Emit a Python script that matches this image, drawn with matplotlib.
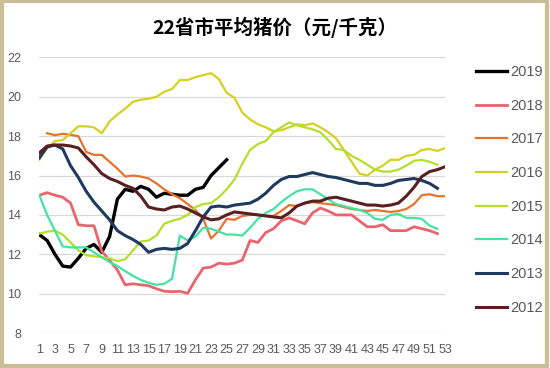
import numpy as np
import matplotlib.pyplot as plt
from matplotlib.patches import Rectangle

plt.rcParams['font.family'] = ['Liberation Sans', 'Noto Sans CJK SC', 'DejaVu Sans']

title = '22省市平均猪价（元/千克）'
weeks = list(range(1, 54))

p2019 = [13.0, 12.7, 12.0, 11.4, 11.35, 11.8, 12.3, 12.5, 12.1, 12.9,
         14.8, 15.3, 15.2, 15.45, 15.3, 14.9, 15.1, 15.05, 15.0, 15.0,
         15.3, 15.4, 16.0, 16.4, 16.8]

p2018 = [15.0, 15.13, 15.0, 14.9, 14.6, 13.5, 13.45, 13.45, 12.15, 11.7,
         11.2, 10.45, 10.5, 10.45, 10.4, 10.25, 10.12, 10.1, 10.12, 10.02,
         10.7, 11.3, 11.35, 11.55, 11.5, 11.55, 11.7, 12.7, 12.6, 13.1,
         13.3, 13.7, 13.85, 13.7, 13.55, 14.1, 14.35, 14.2, 14.0, 14.0,
         14.0, 13.7, 13.4, 13.4, 13.5, 13.2, 13.2, 13.2, 13.4, 13.3,
         13.2, 13.05]

p2017 = [np.nan, 18.15, 18.05, 18.12, 18.07, 18.0, 17.2, 17.05, 17.05, 16.7,
         16.35, 15.95, 16.0, 15.95, 15.85, 15.6, 15.3, 15.05, 14.85, 14.55,
         14.25, 13.8, 12.8, 13.2, 13.8, 13.75, 13.95, 14.0, 14.0, 13.95,
         13.95, 14.2, 14.5, 14.45, 14.6, 14.65, 14.6, 14.55, 14.5, 14.4,
         14.3, 14.25, 14.2, 14.25, 14.2, 14.15, 14.2, 14.3, 14.55, 15.0,
         15.05, 14.95, 14.95]

p2016 = [16.8, 17.4, 17.75, 17.8, 18.15, 18.5, 18.5, 18.45, 18.15, 18.75,
         19.1, 19.4, 19.75, 19.85, 19.9, 20.0, 20.25, 20.4, 20.85, 20.85,
         21.0, 21.1, 21.2, 20.9, 20.2, 19.95, 19.2, 18.85, 18.6, 18.45,
         18.25, 18.3, 18.45, 18.6, 18.55, 18.65, 18.45, 18.2, 17.9, 17.3,
         16.7, 16.1, 16.0, 16.3, 16.5, 16.8, 16.8, 17.0, 17.05, 17.3,
         17.35, 17.25, 17.4]

p2015 = [13.05, 13.15, 13.2, 13.0, 12.6, 12.2, 11.95, 11.9, 11.85, 11.8,
         11.65, 11.75, 12.2, 12.65, 12.7, 12.95, 13.55, 13.7, 13.8, 14.0,
         14.4, 14.55, 14.6, 14.9, 15.3, 15.8, 16.6, 17.3, 17.6, 17.75,
         18.2, 18.45, 18.7, 18.55, 18.45, 18.35, 18.2, 17.8, 17.35, 17.3,
         17.0, 16.8, 16.55, 16.3, 16.2, 16.2, 16.3, 16.5, 16.75, 16.8,
         16.7, 16.55]

p2014 = [15.0, 14.0, 13.2, 12.4, 12.35, 12.35, 12.35, 12.1, 11.85, 11.6,
         11.4, 11.15, 10.9, 10.7, 10.55, 10.45, 10.5, 10.75, 12.95, 12.7,
         12.9, 13.35, 13.3, 13.15, 13.0, 13.0, 12.95, 13.35, 13.8, 14.1,
         14.3, 14.65, 14.95, 15.2, 15.3, 15.3, 15.05, 14.8, 14.55, 14.45,
         14.35, 14.25, 14.1, 13.8, 13.75, 14.0, 14.05, 13.85, 13.85, 13.8,
         13.45, 13.3]

p2013 = [16.9, 17.45, 17.55, 17.35, 16.5, 15.9, 15.2, 14.65, 14.2, 13.75,
         13.2, 12.95, 12.75, 12.5, 12.1, 12.25, 12.3, 12.25, 12.3, 12.55,
         13.2, 13.9, 14.4, 14.45, 14.4, 14.5, 14.55, 14.6, 14.8, 15.1,
         15.5, 15.8, 15.95, 15.95, 16.05, 16.15, 16.05, 15.95, 15.9, 15.8,
         15.7, 15.6, 15.6, 15.5, 15.5, 15.6, 15.75, 15.8, 15.85, 15.75,
         15.6, 15.35]

p2012 = [17.15, 17.5, 17.55, 17.55, 17.5, 17.4, 16.95, 16.55, 16.1, 15.85,
         15.7, 15.5, 15.35, 14.95, 14.4, 14.3, 14.25, 14.4, 14.45, 14.3,
         14.1, 13.9, 13.75, 13.8, 14.0, 14.15, 14.1, 14.05, 14.0, 13.95,
         13.9, 13.85, 14.1, 14.45, 14.6, 14.7, 14.7, 14.85, 14.9, 14.8,
         14.7, 14.6, 14.5, 14.5, 14.45, 14.5, 14.6, 14.95, 15.4, 15.95,
         16.2, 16.3, 16.45]

series = [
    ('2019', p2019, '#000000', 2.4),
    ('2018', p2018, '#E9646C', 2.0),
    ('2017', p2017, '#E8722C', 1.6),
    ('2016', p2016, '#D6D022', 1.6),
    ('2015', p2015, '#B2E02A', 1.6),
    ('2014', p2014, '#45E3A2', 1.6),
    ('2013', p2013, '#1F3A5F', 2.2),
    ('2012', p2012, '#5A1F20', 2.2),
]

fig = plt.figure(figsize=(5.5, 3.68), dpi=100)
fig.patch.set_facecolor('white')
ax = fig.add_axes([0.0715, 0.095, 0.738, 0.749])

for name, vals, color, lw in series:
    ax.plot(weeks[:len(vals)], vals, color=color, lw=lw, label=name,
            solid_joinstyle='round')

ax.set_xlim(1, 53)
ax.set_ylim(8, 22)
ax.set_yticks(range(8, 23, 2))
ax.set_xticks(range(1, 54, 2))
ax.grid(axis='y', color='#D9D9D9', lw=0.9)
ax.set_axisbelow(True)
for s in ax.spines.values():
    s.set_visible(False)
ax.tick_params(length=0, colors='#595959', labelsize=9)
ax.tick_params(axis='y', pad=13)
ax.tick_params(axis='x', pad=8)

fig.text(0.5, 0.925, title, ha='center', va='center', fontsize=14,
         fontweight='bold', family=['Noto Sans CJK SC', 'DejaVu Sans'])

leg = fig.legend(loc='center left', bbox_to_anchor=(0.852, 0.484),
                 frameon=False, fontsize=10.5, handlelength=2.1,
                 handletextpad=0.25, labelspacing=1.35, borderpad=0)
for t in leg.get_texts():
    t.set_color('#595959')

fig.patches.append(Rectangle((0.003, 0.006), 0.992, 0.99, transform=fig.transFigure,
                             fill=False, edgecolor='#C9BE98', lw=3))

fig.savefig('out.png', dpi=100, facecolor='white')
